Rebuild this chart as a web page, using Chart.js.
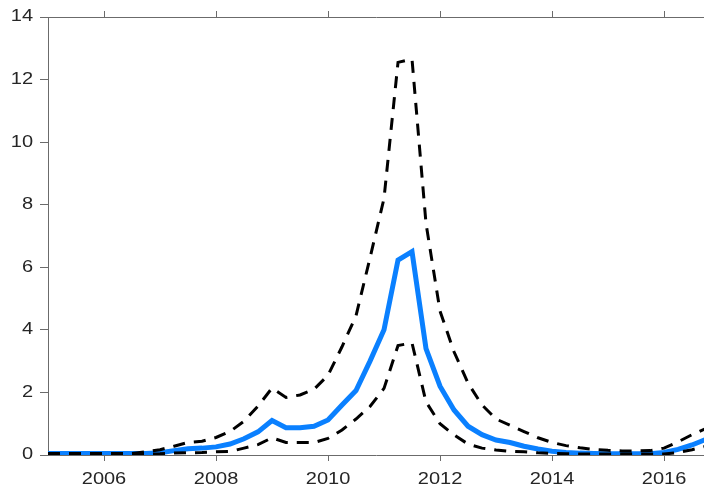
<!DOCTYPE html>
<html>
<head>
<meta charset="utf-8">
<script src="https://cdn.jsdelivr.net/npm/chart.js@4/dist/chart.umd.min.js"></script>
<style>
html,body{margin:0;padding:0;background:#fff;}
#wrap{width:704px;height:490px;position:relative;}
</style>
</head>
<body>
<div id="wrap"><canvas id="c" width="704" height="490"></canvas></div>
<script>
const quarters = [
 2005.00,2005.25,2005.50,2005.75,2006.00,2006.25,2006.50,2006.75,
 2007.00,2007.25,2007.50,2007.75,2008.00,2008.25,2008.50,2008.75,
 2009.00,2009.25,2009.50,2009.75,2010.00,2010.25,2010.50,2010.75,
 2011.00,2011.25,2011.50,2011.75,2012.00,2012.25,2012.50,2012.75,
 2013.00,2013.25,2013.50,2013.75,2014.00,2014.25,2014.50,2014.75,
 2015.00,2015.25,2015.50,2015.75,2016.00,2016.25,2016.50,2016.75
];
const median = [
 0.05,0.05,0.05,0.05,0.05,0.05,0.05,0.05,
 0.07,0.14,0.20,0.22,0.26,0.35,0.52,0.74,
 1.10,0.87,0.87,0.92,1.12,1.60,2.06,3.00,
 4.00,6.23,6.50,3.40,2.20,1.44,0.92,0.65,
 0.48,0.40,0.28,0.19,0.12,0.08,0.06,0.05,
 0.04,0.04,0.04,0.04,0.08,0.18,0.32,0.50
];
const upper = [
 0.05,0.05,0.05,0.05,0.05,0.05,0.05,0.10,
 0.17,0.28,0.40,0.44,0.56,0.75,1.08,1.56,
 2.14,1.84,1.92,2.10,2.55,3.46,4.45,6.30,
 8.20,12.55,12.65,7.40,4.60,3.30,2.30,1.60,
 1.15,0.95,0.75,0.55,0.40,0.30,0.23,0.18,
 0.15,0.13,0.13,0.14,0.22,0.42,0.65,0.85
];
const lower = [
 0.03,0.03,0.03,0.03,0.03,0.03,0.03,0.03,
 0.04,0.06,0.07,0.08,0.10,0.11,0.22,0.33,
 0.55,0.40,0.40,0.40,0.53,0.80,1.15,1.55,
 2.13,3.50,3.58,1.70,1.00,0.64,0.35,0.22,
 0.16,0.12,0.10,0.07,0.05,0.04,0.03,0.03,
 0.03,0.03,0.03,0.03,0.03,0.08,0.17,0.28
];
const xTicks = [2006, 2008, 2010, 2012, 2014, 2016];
const yTicks = [0, 2, 4, 6, 8, 10, 12, 14];

const pts = arr => arr.map((v, i) => ({x: quarters[i], y: v}));
const axisColor = '#6b6b6b';
const textColor = '#262626';
Chart.defaults.font.family = "'Liberation Sans', Arial, sans-serif";
Chart.defaults.font.size = 16;
Chart.defaults.color = textColor;

// the reference text is drawn slightly wide; stretch glyphs horizontally around their anchor
const canvas = document.getElementById('c');
const ctx2d = canvas.getContext('2d');
const origFillText = ctx2d.fillText.bind(ctx2d);
ctx2d.fillText = function (t, x, y, mw) {
  this.save();
  this.translate(x, y);
  this.scale(1.25, 1);
  if (mw === undefined) origFillText(t, 0, 0); else origFillText(t, 0, 0, mw / 1.25);
  this.restore();
};

const xMin = 2005, xMax = 2016.714;
const dash = [12, 9];

new Chart(canvas, {
  type: 'line',
  data: {
    datasets: [
      {data: pts(upper), borderColor: '#000', borderWidth: 3, borderDash: dash, pointRadius: 0, fill: false, tension: 0},
      {data: pts(lower), borderColor: '#000', borderWidth: 3, borderDash: dash, pointRadius: 0, fill: false, tension: 0},
      {data: pts(median), borderColor: '#0A80FF', borderWidth: 5, pointRadius: 0, fill: false, tension: 0}
    ]
  },
  options: {
    responsive: false,
    animation: false,
    layout: {padding: 0},
    plugins: {legend: {display: false}, tooltip: {enabled: false}},
    scales: {
      x: {
        type: 'linear', position: 'bottom', min: xMin, max: xMax,
        afterBuildTicks: s => { s.ticks = xTicks.map(v => ({value: v})); },
        afterFit: s => { s.height = 35; },
        ticks: {callback: v => String(v), padding: 9, maxRotation: 0, autoSkip: false, color: textColor},
        grid: {drawOnChartArea: false, drawTicks: true, tickLength: 6, color: axisColor, tickWidth: 1},
        border: {display: true, color: axisColor, width: 1}
      },
      x2: {
        type: 'linear', position: 'top', min: xMin, max: xMax,
        afterBuildTicks: s => { s.ticks = xTicks.map(v => ({value: v})); },
        afterFit: s => { s.height = 17; },
        ticks: {display: false},
        grid: {drawOnChartArea: false, drawTicks: true, tickLength: 6, color: axisColor, tickWidth: 1},
        border: {display: true, color: axisColor, width: 1}
      },
      y: {
        type: 'linear', min: 0, max: 14,
        afterBuildTicks: s => { s.ticks = yTicks.map(v => ({value: v})); },
        afterFit: s => { s.width = 48; },
        ticks: {padding: 7, color: textColor},
        grid: {drawOnChartArea: false, drawTicks: true, tickLength: 8, color: axisColor, tickWidth: 1},
        border: {display: true, color: axisColor, width: 1}
      }
    }
  }
});
</script>
</body>
</html>
